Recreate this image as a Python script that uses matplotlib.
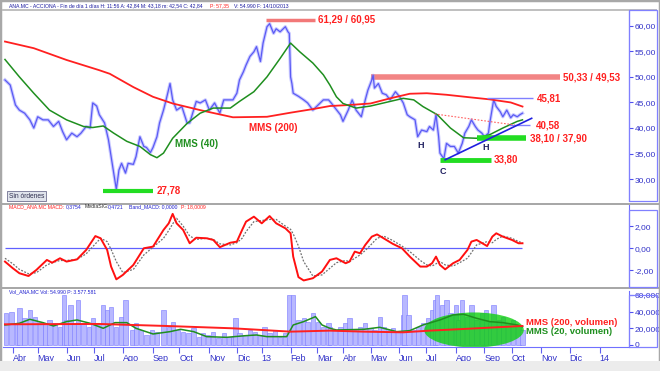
import matplotlib
matplotlib.use('Agg')
import matplotlib.pyplot as plt
from matplotlib.patches import Rectangle, Ellipse

plt.rcParams['font.family'] = ['Liberation Sans', 'DejaVu Sans']

W, H = 660, 371

# x axis = trading session number (0 = first session shown)
month_ticks = [6, 25, 47, 68, 90, 113, 133, 156, 177, 196, 218, 238, 258, 279, 301, 321, 344, 366, 387, 409, 431, 454]
month_labels = ['Abr', 'May', 'Jun', 'Jul', 'Ago', 'Sep', 'Oct', 'Nov', 'Dic', '13', 'Feb', 'Mar',
                'Abr', 'May', 'Jun', 'Jul', 'Ago', 'Sep', 'Oct', 'Nov', 'Dic', '14']

price_t = [0, 4, 8, 11, 15, 19, 22, 25, 29, 33, 37, 41, 44, 47, 51, 55, 58, 62, 65, 67, 70, 72, 76, 79, 81, 83,
           85, 87, 89, 92, 94, 98, 100, 103, 106, 108, 111, 113, 116, 118, 121, 123, 126, 128, 131, 135, 139,
           141, 144, 146, 149, 153, 156, 160, 164, 167, 170, 174, 177, 179, 182, 184, 187, 190, 192, 195, 197,
           200, 202, 205, 207, 210, 214, 216, 217, 218, 219, 220, 224, 228, 231, 235, 239, 243, 247, 249, 252,
           256, 258, 262, 265, 268, 272, 275, 277, 280, 281, 282, 285, 288, 291, 294, 298, 301, 304, 307, 309,
           313, 315, 318, 322, 324, 327, 329, 331, 332, 335, 337, 340, 343, 346, 349, 351, 354, 356, 359, 361,
           364, 366, 369, 370, 373, 375, 378, 380, 383, 386, 388, 391, 393, 395]
price = [49.4, 48.4, 44.5, 43.5, 42.9, 41.6, 40.0, 42.2, 41.6, 41.6, 40.3, 41.3, 39.3, 37.7, 39.0, 38.3, 39.0,
         40.3, 40.0, 44.9, 44.3, 42.6, 41.0, 37.7, 34.4, 31.2, 28.0, 31.8, 33.1, 31.2, 33.1, 32.9, 34.4, 38.3,
         36.4, 36.2, 35.2, 36.2, 38.3, 41.0, 43.5, 45.5, 48.7, 45.5, 43.5, 44.2, 41.0, 41.0, 43.5, 45.2, 44.9,
         45.5, 43.5, 44.9, 42.9, 45.5, 45.5, 45.5, 46.8, 49.4, 51.0, 52.3, 54.0, 54.9, 55.9, 53.0, 56.6, 59.8,
         60.4, 58.5, 59.4, 58.8, 59.8, 58.8, 58.5, 50.0, 48.7, 46.8, 46.2, 45.5, 44.9, 43.5, 44.5, 45.5, 45.5,
         44.9, 43.9, 42.6, 41.3, 43.5, 45.5, 43.5, 42.2, 45.5, 47.4, 49.4, 50.3, 47.8, 48.7, 46.8, 46.5, 45.5,
         47.1, 46.2, 44.9, 42.6, 42.2, 41.6, 38.3, 39.6, 39.3, 40.3, 39.6, 42.6, 38.3, 35.1, 34.0, 37.0, 36.4,
         36.4, 35.1, 37.0, 39.0, 40.3, 41.6, 40.3, 39.6, 39.0, 38.3, 39.0, 40.9, 45.5, 44.2, 43.2, 42.2, 43.5,
         42.0, 42.6, 42.2, 42.6, 42.9]

mms40_t = [0, 11, 22, 34, 47, 60, 67, 75, 83, 93, 103, 111, 116, 121, 128, 139, 149, 159, 172, 179, 190, 200,
           210, 218, 225, 235, 243, 248, 253, 258, 268, 279, 294, 304, 312, 319, 330, 340, 350, 360, 370, 380,
           391, 395]
mms40 = [53.4, 50.0, 46.8, 43.5, 41.6, 40.3, 40.1, 40.4, 39.0, 37.4, 36.4, 34.8, 34.2, 35.1, 38.0, 40.9, 42.9,
         43.9, 43.9, 45.2, 47.1, 50.0, 53.6, 56.6, 54.9, 52.7, 50.4, 48.4, 46.1, 44.8, 43.9, 44.3, 45.2, 45.8,
         45.5, 44.2, 42.6, 40.0, 38.1, 38.0, 38.7, 40.0, 41.3, 41.6]

mms200_t = [0, 22, 47, 72, 80, 98, 113, 128, 149, 174, 200, 218, 235, 248, 263, 279, 294, 309, 322, 337, 355,
            370, 386, 395]
mms200 = [56.9, 55.6, 53.3, 51.3, 50.6, 48.0, 46.1, 44.8, 43.5, 42.1, 42.2, 43.0, 43.7, 44.3, 44.5, 44.8, 45.8,
          46.7, 46.8, 46.5, 46.0, 45.6, 45.0, 44.2]

macd_t = [0, 6, 11, 18, 24, 32, 36, 42, 47, 55, 62, 69, 73, 78, 81, 85, 90, 98, 106, 113, 121, 125, 128, 131,
          136, 141, 146, 154, 159, 164, 172, 177, 181, 184, 190, 196, 202, 207, 214, 218, 220, 224, 228, 235,
          242, 248, 253, 260, 263, 267, 271, 275, 280, 284, 289, 296, 303, 309, 317, 322, 326, 329, 332, 336,
          342, 347, 353, 356, 360, 368, 372, 375, 380, 387, 392, 395]
macd = [-1.2, -1.8, -2.25, -2.5, -1.95, -1.05, -1.3, -0.9, -1.2, -1.0, -0.15, 1.1, 0.9, -0.15, -1.65, -2.8,
        -2.4, -1.5, 0.0, 0.15, 1.65, 2.25, 3.1, 2.25, 1.65, 0.45, 0.95, 0.9, 0.75, 0.1, 0.5, 0.6, 1.65, 2.4,
        2.85, 2.25, 2.9, 2.25, 1.8, 1.35, -0.75, -2.6, -2.9, -2.7, -2.1, -1.05, -0.9, -1.35, -1.2, -0.3, -0.45,
        0.3, 1.05, 1.25, 0.9, 0.4, 0.0, -0.75, -1.65, -1.65, -1.35, -0.75, -1.5, -1.9, -1.35, -1.05, -0.15,
        0.6, 0.75, 0.2, 1.05, 1.35, 1.05, 0.75, 0.45, 0.45]
signal = [-0.9, -1.4, -1.9, -2.3, -2.2, -1.5, -1.3, -1.1, -1.1, -1.0, -0.5, 0.4, 0.9, 0.6, -0.1, -1.2, -2.2,
          -1.9, -0.6, 0.1, 0.9, 1.6, 2.2, 2.7, 2.0, 1.1, 0.8, 0.9, 0.8, 0.4, 0.3, 0.5, 0.9, 1.5, 2.4, 2.5, 2.6,
          2.6, 2.0, 1.7, 1.3, 0.2, -1.2, -2.5, -2.4, -1.8, -1.3, -1.1, -1.2, -0.9, -0.6, -0.2, 0.4, 0.9, 1.1,
          0.7, 0.2, -0.3, -1.1, -1.5, -1.6, -1.4, -1.2, -1.5, -1.6, -1.3, -0.9, -0.4, 0.3, 0.6, 0.5, 0.8, 1.1,
          0.9, 0.6, 0.5]

# volume in thousands of shares
vol_t = [1, 5, 9, 11, 15, 19, 23, 27, 31, 34, 38, 42, 45, 47, 50, 53, 56, 60, 64, 67, 71, 75, 78, 81, 85, 89,
         92, 97, 100, 104, 108, 112, 116, 121, 125, 128, 132, 136, 140, 144, 148, 151, 155, 159, 163, 167, 171,
         174, 176, 179, 183, 187, 191, 195, 198, 202, 206, 210, 214, 217, 220, 224, 228, 231, 235, 239, 243,
         247, 248, 252, 256, 260, 263, 267, 271, 275, 279, 282, 286, 289, 293, 296, 300, 304, 305, 308, 312,
         315, 319, 323, 326, 328, 330, 334, 337, 340, 344, 346, 349, 353, 356, 360, 364, 367, 370, 373, 377,
         380, 384, 388, 392, 395]
vol = [38, 40, 26, 44, 32, 42, 34, 28, 26, 30, 26, 22, 60, 30, 48, 26, 54, 26, 22, 32, 24, 48, 42, 46, 22, 34,
       54, 18, 26, 18, 12, 18, 16, 42, 22, 28, 18, 16, 14, 20, 10, 14, 12, 16, 8, 14, 10, 10, 32, 14, 12, 18,
       16, 12, 22, 14, 18, 10, 14, 60, 60, 30, 32, 28, 38, 28, 22, 26, 22, 18, 22, 26, 32, 18, 22, 26, 20, 18,
       34, 22, 18, 20, 16, 36, 60, 36, 18, 22, 26, 32, 42, 54, 60, 48, 54, 38, 48, 30, 54, 34, 48, 30, 38, 42,
       28, 48, 30, 34, 26, 30, 24, 18]

vol200_t = [0, 72, 123, 174, 218, 248, 274, 304, 324, 350, 375, 395]
vol200 = [24.8, 25.2, 22.8, 20.0, 16.0, 17.2, 16.0, 15.2, 17.2, 19.2, 21.2, 22.8]
vol20_t = [0, 11, 19, 29, 37, 47, 55, 65, 75, 84, 93, 100, 113, 126, 134, 144, 154, 169, 184, 192, 200, 215,
           220, 228, 237, 242, 248, 253, 274, 286, 299, 309, 319, 332, 342, 350, 360, 370, 380, 391, 395]
vol20 = [24, 26, 30.8, 26.8, 22.8, 28, 30, 26, 20, 26.8, 26.8, 20, 13.2, 16, 18.8, 16, 10, 9.2, 11.2, 12, 10,
         10, 24, 28, 34, 24, 20, 18, 18.8, 21.2, 16, 17.2, 24, 30, 36, 36.8, 32, 28, 26.8, 24, 22]

BLUE_TXT = '#3232c8'
RED = '#ff2020'
GREEN = '#1f8f1f'


def fx(px):
    return px / W


def fy(py):
    return 1 - py / H


def make_ax(top, bottom):
    ax = fig.add_axes([fx(3), fy(bottom), fx(629) - fx(3), (bottom - top) / H])
    for s in ['left', 'top', 'bottom']:
        ax.spines[s].set_visible(False)
    ax.spines['right'].set_color('#7070ff')
    ax.yaxis.tick_right()
    ax.tick_params(axis='y', colors='#5050f0', labelcolor=BLUE_TXT, labelsize=6, length=3, pad=1)
    ax.set_xticks([])
    ax.set_xlim(-1.5, 476.3)
    return ax


def header(py, parts, size=3.7):
    # coloured pieces of one header line, each started at its own pixel column
    for px, s, c in parts:
        fig.text(fx(px), fy(py), s, color=c, fontsize=size, va='center')


fig = plt.figure(figsize=(W / 100, H / 100), dpi=100)

# ---- price panel
ax = make_ax(11, 201)
ax.set_ylim(25.74, 62.87)
ax.set_yticks([30, 35, 40, 45, 50, 55, 60])
ax.set_yticklabels(['30,00', '35,00', '40,00', '45,00', '50,00', '55,00', '60,00'])

ax.hlines(49.93, 279, 424, color='#f07070', lw=4, alpha=0.85, zorder=1)
ax.hlines(61.12, 199, 237, color='#f06060', lw=2.5, alpha=0.85, zorder=1)
ax.plot(price_t, price, color='#8a8aff', lw=2.4, alpha=0.45, zorder=2)
ax.plot(price_t, price, color='#5a5af5', lw=0.9, zorder=3)
ax.plot(mms200_t, mms200, color=RED, lw=1.3, zorder=4)
ax.plot(mms40_t, mms40, color=GREEN, lw=1.1, zorder=4)
ax.hlines(27.78, 75, 113, color='#22dd22', lw=3, zorder=5)
ax.hlines(38.0, 360, 398, color='#22dd22', lw=4, zorder=5)
ax.hlines(33.8, 332, 371, color='#22dd22', lw=3.5, zorder=5)
ax.hlines(45.81, 368, 403, color='#8080ff', lw=1, zorder=5)
ax.hlines(40.58, 385, 401, color='#8080ff', lw=1, zorder=5)
ax.plot([336, 402], [33.8, 41.9], color='#2020e0', lw=1.2, zorder=6)
ax.plot([328, 389], [42.75, 40.6], color='#ff6060', lw=0.8, ls=(0, (1.5, 1.5)), zorder=6)

lab = dict(color=RED, fontsize=7, fontweight='bold', va='center', ha='left')
ax.text(116, 27.78, '27,78', **lab)
ax.text(239, 61.12, '61,29 / 60,95', **lab)
ax.text(426, 49.93, '50,33 / 49,53', **lab)
ax.text(406, 45.81, '45,81', **lab)
ax.text(405, 40.5, '40,58', **lab)
ax.text(401, 38.0, '38,10 / 37,90', **lab)
ax.text(373, 33.8, '33,80', **lab)
ax.text(146, 36.9, 'MMS (40)', color=GREEN, fontsize=7, fontweight='bold', ha='center', va='center')
ax.text(205, 40.0, 'MMS (200)', color=RED, fontsize=7, fontweight='bold', ha='center', va='center')
for t, p, s in [(317, 36.5, 'H'), (367, 36.25, 'H'), (334.6, 31.5, 'C')]:
    ax.text(t, p, s, color='#202060', fontsize=6.5, fontweight='bold', ha='center', va='center')

# ---- MACD panel
ax2 = make_ax(205, 286)
ax2.set_ylim(-3.4, 3.9)
ax2.set_yticks([-2, 0, 2])
ax2.set_yticklabels(['-2,00', '0,00', '2,00'])
ax2.hlines(0, 0, 395, color='#6060ff', lw=0.9)
ax2.plot(macd_t, signal, color='#707070', lw=0.9, ls=(0, (1.5, 1.2)))
ax2.plot(macd_t, macd, color='#ff1010', lw=1.4)

# ---- volume panel
ax3 = make_ax(291, 347)
ax3.set_ylim(-2.4, 64.7)
ax3.set_yticks([0, 20, 40, 60])
ax3.set_yticklabels(['0', '20,000', '40,000', '60,000'])
ax3.spines['bottom'].set_visible(True)
ax3.spines['bottom'].set_color('#7070ff')
ax3.bar(vol_t, vol, width=3.3, color='#b8b8ff', edgecolor='#7878ff', lw=0.4, zorder=1)
ax3.add_patch(Ellipse((358, 18), 76, 42, color='#10d010', alpha=0.8, lw=0, zorder=2))
ax3.plot(vol20_t, vol20, color=GREEN, lw=1.1, zorder=3)
ax3.plot(vol200_t, vol200, color=RED, lw=1.4, zorder=3)
ax3.text(398, 26.5, 'MMS (200, volumen)', color=RED, fontsize=6.8, fontweight='bold', va='center')
ax3.text(398, 16.5, 'MMS (20, volumen)', color=GREEN, fontsize=6.8, fontweight='bold', va='center')
ax3.set_xticks(month_ticks)
ax3.set_xticklabels(month_labels, ha='left')
ax3.tick_params(axis='x', colors='#6060f0', labelcolor=BLUE_TXT, labelsize=6.5, length=4, pad=1)

# ---- window chrome: frame, separators, label boxes, headers
fig.add_artist(Rectangle((0, 0), 1, 1, transform=fig.transFigure, fill=False, ec='#a8a8a8', lw=2.5))
for py in [203.5, 288]:
    fig.add_artist(Rectangle((0, fy(py + 1)), 1, 2 / H, transform=fig.transFigure, color='#a8a8a8', lw=0))
fig.add_artist(Rectangle((0, 0), 1, fy(361), transform=fig.transFigure, color='#ececec', lw=0))
fig.add_artist(Rectangle((fx(1.5), fy(11)), fx(655), 1.5 / H, transform=fig.transFigure, color='#c0c0c0', lw=0))
for top, bot in [(10, 201), (210, 287), (295, 347)]:
    fig.add_artist(Rectangle((fx(629), fy(bot)), fx(27.5), (bot - top) / H, transform=fig.transFigure,
                             fill=False, ec='#8080ff', lw=0.9))

DK = '#1a1aa0'
header(6, [(9, 'ANA.MC - ACCIONA - Fin de día 1 días H: 11:56 A: 42,84 M: 43,18 m: 42,54 C: 42,84', DK),
           (210, 'P: 57,35', '#ff2020'), (234, 'V: 54.990 F: 14/10/2013', DK)])
header(207, [(9, 'MACD_ANA.MC MACD:', '#ff2020'), (66, '0,3754', '#2020d0'), (85, 'MediaSIG:', '#303030'),
             (108, '0,4721', '#2020d0'), (129, 'Band_MACD: 0,0000', '#2020d0'), (181, 'P: 18,0009', '#ff2020')])
header(292, [(9, 'Vol_ANA.MC Vol: 54.990 P: 3.577.581', '#2020d0')])

fig.text(fx(9), fy(196), 'Sin órdenes', color='#303050', fontsize=4.8, va='center',
         bbox=dict(boxstyle='square,pad=0.25', fc='#e0e4ec', ec='#707090', lw=0.6))

fig.savefig('out.png', dpi=100)
